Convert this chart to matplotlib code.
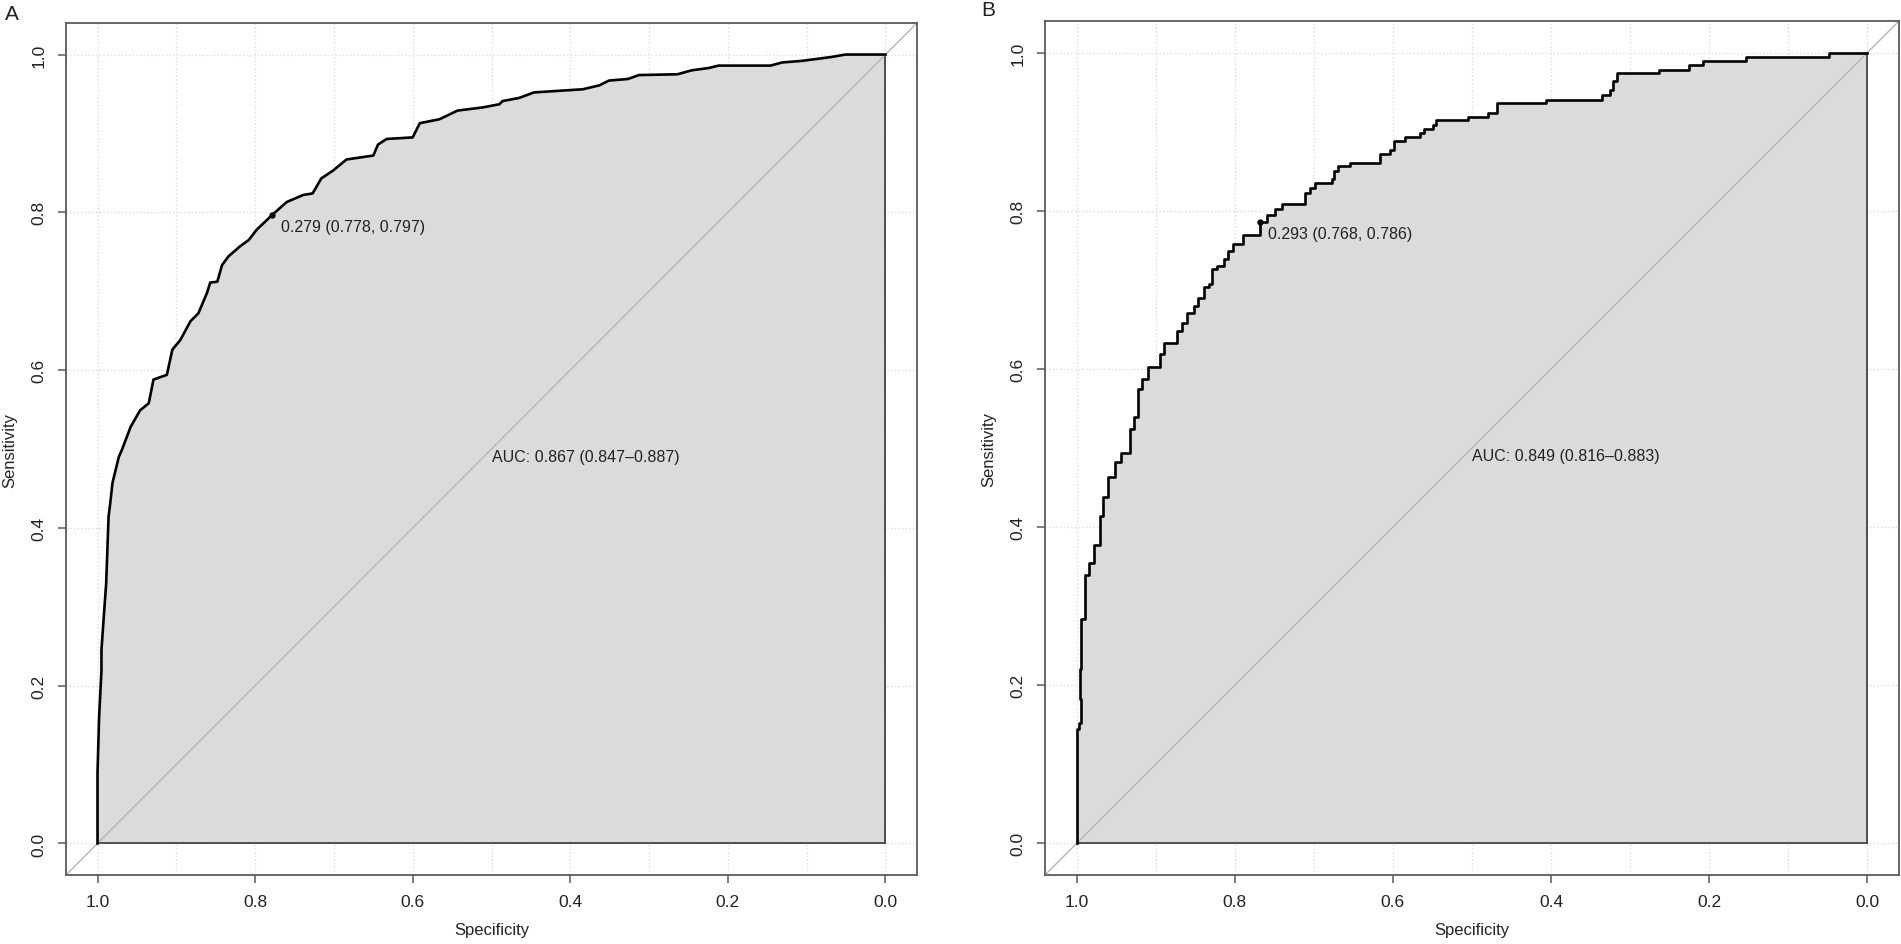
import matplotlib.pyplot as plt
import numpy as np

plt.rcParams['font.family'] = ['Liberation Sans', 'DejaVu Sans']

# panel A : courbe ROC (specificite, sensibilite)
spec_a = [1.000, 1.000, 0.998, 0.995, 0.995, 0.993, 0.989, 0.986, 0.984, 0.981,
          0.973, 0.969, 0.958, 0.946, 0.935, 0.929, 0.912, 0.905, 0.895, 0.882,
          0.872, 0.861, 0.857, 0.848, 0.842, 0.834, 0.819, 0.808, 0.798, 0.778,
          0.760, 0.739, 0.727, 0.716, 0.701, 0.684, 0.650, 0.644, 0.633, 0.600,
          0.591, 0.566, 0.543, 0.511, 0.490, 0.486, 0.465, 0.446, 0.384, 0.363,
          0.351, 0.327, 0.313, 0.264, 0.246, 0.224, 0.212, 0.146, 0.131, 0.106,
          0.083, 0.068, 0.051, 0.000]
sens_a = [0.000, 0.090, 0.160, 0.219, 0.245, 0.274, 0.330, 0.414, 0.430, 0.457,
          0.490, 0.499, 0.528, 0.549, 0.558, 0.588, 0.594, 0.626, 0.638, 0.662,
          0.672, 0.698, 0.711, 0.712, 0.733, 0.744, 0.757, 0.765, 0.778, 0.797,
          0.813, 0.822, 0.824, 0.843, 0.853, 0.867, 0.872, 0.886, 0.893, 0.895,
          0.913, 0.918, 0.929, 0.933, 0.937, 0.941, 0.945, 0.952, 0.956, 0.961,
          0.967, 0.969, 0.974, 0.975, 0.980, 0.983, 0.986, 0.986, 0.990, 0.992,
          0.995, 0.997, 1.000, 1.000]
thres_a = (0.778, 0.797)
thres_label_a = '0.279 (0.778, 0.797)'
auc_label_a = 'AUC: 0.867 (0.847\u20130.887)'

# panel B
spec_b = [1.000, 1.000, 0.997, 0.995, 0.996, 0.994, 0.990, 0.984, 0.978, 0.971,
          0.967, 0.960, 0.951, 0.944, 0.933, 0.933, 0.928, 0.923, 0.917, 0.910,
          0.896, 0.894, 0.890, 0.875, 0.873, 0.867, 0.860, 0.852, 0.846, 0.839,
          0.833, 0.829, 0.822, 0.814, 0.808, 0.802, 0.790, 0.789, 0.768, 0.768,
          0.759, 0.749, 0.740, 0.715, 0.711, 0.705, 0.698, 0.677, 0.675, 0.669,
          0.654, 0.618, 0.616, 0.604, 0.599, 0.585, 0.566, 0.561, 0.549, 0.545,
          0.505, 0.480, 0.469, 0.406, 0.336, 0.326, 0.322, 0.317, 0.264, 0.225,
          0.208, 0.153, 0.048, 0.000]
sens_b = [0.000, 0.145, 0.152, 0.183, 0.221, 0.284, 0.339, 0.354, 0.377, 0.414,
          0.438, 0.463, 0.482, 0.494, 0.499, 0.524, 0.539, 0.574, 0.587, 0.602,
          0.602, 0.619, 0.633, 0.633, 0.648, 0.658, 0.671, 0.680, 0.690, 0.703,
          0.707, 0.726, 0.730, 0.739, 0.749, 0.758, 0.758, 0.770, 0.771, 0.786,
          0.795, 0.802, 0.808, 0.808, 0.823, 0.829, 0.835, 0.840, 0.850, 0.856,
          0.861, 0.861, 0.872, 0.877, 0.888, 0.893, 0.898, 0.904, 0.909, 0.915,
          0.919, 0.924, 0.936, 0.940, 0.947, 0.953, 0.964, 0.974, 0.978, 0.984,
          0.989, 0.995, 1.000, 1.000]
thres_b = (0.768, 0.786)
thres_label_b = '0.293 (0.768, 0.786)'
auc_label_b = 'AUC: 0.849 (0.816\u20130.883)'

ticks = [0.0, 0.2, 0.4, 0.6, 0.8, 1.0]
frame_col = '#5a5a5a'
text_col = '#222222'


def draw_roc(ax, spec, sens, thres, thres_label, auc_label, style):
    spec = np.asarray(spec)
    sens = np.asarray(sens)
    # grille pointillee (0.1 en x, 0.2 en y)
    for v in np.arange(0, 1.01, 0.1):
        ax.axvline(v, color='#dcdcdc', lw=1, ls=':', zorder=0)
    for v in ticks:
        ax.axhline(v, color='#dcdcdc', lw=1, ls=':', zorder=0)
    # aire sous la courbe
    if style == 'steps-post':
        ax.fill_between(spec, sens, 0, step='post', color='#dbdbdb', lw=0, zorder=1)
    else:
        ax.fill_between(spec, sens, 0, color='#dbdbdb', lw=0, zorder=1)
    ax.plot([1, 0], [0, 0], color='#444444', lw=1.3, zorder=2)
    ax.plot([0, 0], [0, 1], color='#444444', lw=1.3, zorder=2)
    # diagonale
    ax.plot([1.1, -0.1], [-0.1, 1.1], color='#b4b4b4', lw=1, zorder=2)
    ax.plot(spec, sens, color='black', lw=1.9, drawstyle=style, zorder=3)
    ax.plot(*thres, 'o', color='black', ms=3.5, zorder=4)
    ax.annotate(thres_label, xy=thres, xytext=(6, -3), textcoords='offset points',
                ha='left', va='top', fontsize=11.5, color=text_col, zorder=5)
    ax.text(0.5, 0.5, auc_label, ha='left', va='top', fontsize=11.5,
            color=text_col, zorder=5)

    ax.set_xlim(1.04, -0.04)
    ax.set_ylim(-0.04, 1.04)
    ax.set_xticks(ticks)
    ax.set_yticks(ticks)
    ax.set_xticklabels(['%.1f' % t for t in ticks])
    ax.set_yticklabels(['%.1f' % t for t in ticks], rotation=90, va='center')
    ax.tick_params(length=6, width=1.1, color=frame_col, labelcolor=text_col,
                   labelsize=12.5, pad=8)
    for s in ax.spines.values():
        s.set_color(frame_col)
        s.set_linewidth(1.3)
    ax.set_xlabel('Specificity', fontsize=12, color=text_col, labelpad=9)
    ax.set_ylabel('Sensitivity', fontsize=12, color=text_col, labelpad=10)


fig = plt.figure(figsize=(19.01, 9.45), dpi=100)
ax1 = fig.add_axes([66 / 1901, 1 - 876 / 945, 851 / 1901, 852 / 945])
ax2 = fig.add_axes([1045 / 1901, 1 - 876 / 945, 854 / 1901, 854 / 945])

draw_roc(ax1, spec_a, sens_a, thres_a, thres_label_a, auc_label_a, 'default')
draw_roc(ax2, spec_b, sens_b, thres_b, thres_label_b, auc_label_b, 'steps-post')

fig.text(12 / 1901, 1 - 14 / 945, 'A', fontsize=15, ha='center', va='center', color=text_col)
fig.text(988 / 1901, 1 - 11 / 945, 'B', fontsize=15, ha='center', va='center', color=text_col)

fig.savefig('out.png', dpi=100)
